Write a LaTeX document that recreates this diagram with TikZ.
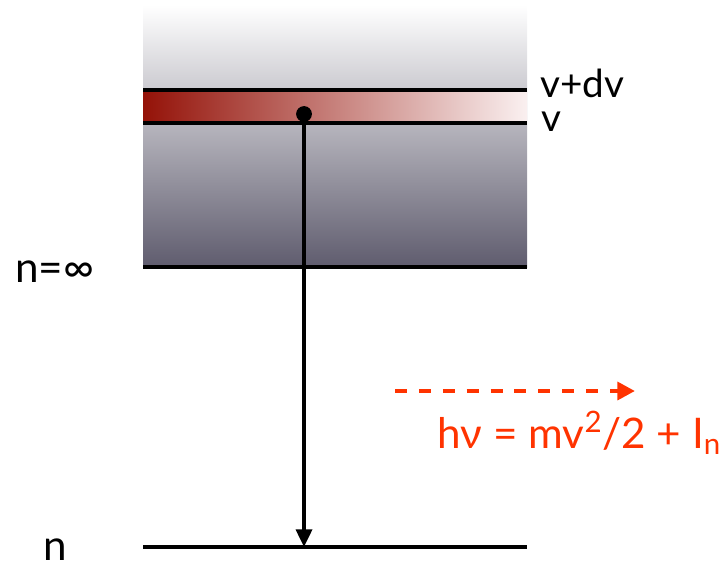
\documentclass[tikz,border=0pt]{standalone}
\usepackage{fontspec}
\setmainfont{Lato}
\usetikzlibrary{arrows.meta}

\definecolor{contdark}{RGB}{95,92,110}
\definecolor{banddark}{RGB}{148,18,8}
\definecolor{bandlight}{RGB}{250,240,240}
\definecolor{photon}{RGB}{255,51,0}

\begin{document}
\begin{tikzpicture}[x=0.02cm,y=-0.02cm]
	 \tikzstyle{level} = [draw,line width=2.2pt,-,black]
	 \tikzstyle{jump} = [draw,line width=2.2pt,black,-{Triangle[length=10pt,width=9pt]}]
	 \tikzstyle{escape} = [draw,line width=2.6pt,photon,dash pattern=on 6.8pt off 6.8pt,-{Triangle[length=10pt,width=10pt]}]
	 \tikzstyle{label} = [anchor=base west,inner sep=0pt,font=\fontsize{22}{26}\selectfont]
	 \tikzstyle{big label} = [anchor=base west,inner sep=0pt,font=\fontsize{24}{28}\selectfont]
	 \tikzstyle{electron} = [circle,fill=black,minimum size=9pt,inner sep=0pt]

	 \useasboundingbox (0,0) rectangle (719,565);

	 % continuum and the band v .. v+dv
	 \shade[top color=white,bottom color=contdark] (143,5) rectangle (527,267);
	 \shade[left color=banddark,right color=bandlight] (143,90) rectangle (527,123);

	 \coordinate (a0) at (143,90);   \coordinate (b0) at (527,90);
	 \coordinate (a1) at (143,123);  \coordinate (b1) at (527,123);
	 \coordinate (a2) at (143,267);  \coordinate (b2) at (527,267);
	 \coordinate (a3) at (143,547);  \coordinate (b3) at (527,547);
	 \coordinate (land) at (304,547);
	 \coordinate (e0) at (395,391);  \coordinate (e1) at (635,391);

	 \draw[level] (a0) -- (b0);
	 \draw[level] (a1) -- (b1);
	 \draw[level] (a2) -- (b2);
	 \draw[level] (a3) -- (b3);

	 \node[electron] (el) at (304,114) {};
	 \draw[jump] (el.center) -- (land);
	 \draw[escape] (e0) -- (e1);

	 \node[label] (vdv) at (540,97) {v+dv};
	 \node[label] (vv) at (541,131) {v};
	 \node[big label] (ninf) at (15,282) {n=∞};
	 \node[big label] (nn) at (43,560) {n};
	 \node[big label,text=photon] (eq) at (437,448) {hν = mv\textsuperscript{2}/2 + I\textsubscript{n}};
\end{tikzpicture}
\end{document}
